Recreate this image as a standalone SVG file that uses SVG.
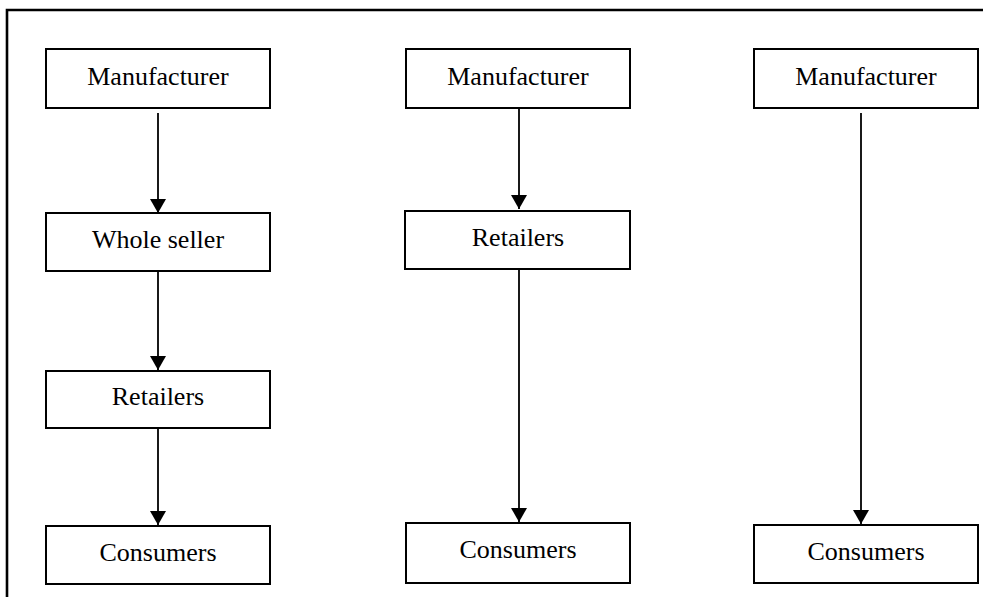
<svg xmlns="http://www.w3.org/2000/svg" width="983" height="597" viewBox="0 0 983 597">
<style>
.box{fill:#fff;stroke:#000;stroke-width:2}
.lbl{font-family:"Liberation Serif","Times New Roman",serif;font-size:26px;fill:#000;text-anchor:middle}
.con{stroke:#000;stroke-width:1.8;fill:none}
</style>
<defs>
<marker id="ah" markerUnits="userSpaceOnUse" markerWidth="14" markerHeight="16" refX="14" refY="8" orient="auto" viewBox="0 0 14 16">
<path d="M0,0 L14,8 L0,16 Z" fill="#000"/>
</marker>
</defs>
<rect width="983" height="597" fill="#fff"/>
<path d="M7,600 V10 H990" fill="none" stroke="#000" stroke-width="2.6"/>
<g id="connectors">
<line class="con" x1="158" y1="113" x2="158" y2="213" marker-end="url(#ah)"/>
<line class="con" x1="158" y1="271" x2="158" y2="370" marker-end="url(#ah)"/>
<line class="con" x1="158" y1="428" x2="158" y2="525" marker-end="url(#ah)"/>
<line class="con" x1="519" y1="108" x2="519" y2="209" marker-end="url(#ah)"/>
<line class="con" x1="519" y1="269" x2="519" y2="522" marker-end="url(#ah)"/>
<line class="con" x1="861" y1="113" x2="861" y2="524" marker-end="url(#ah)"/>
</g>
<g id="m1"><rect class="box" x="46" y="49" width="224" height="59"/><text class="lbl" x="158" y="85">Manufacturer</text></g>
<g id="w1"><rect class="box" x="46" y="213" width="224" height="58"/><text class="lbl" x="158" y="248">Whole seller</text></g>
<g id="r1"><rect class="box" x="46" y="371" width="224" height="57"/><text class="lbl" x="158" y="405">Retailers</text></g>
<g id="c1"><rect class="box" x="46" y="526" width="224" height="58"/><text class="lbl" x="158" y="561">Consumers</text></g>
<g id="m2"><rect class="box" x="406" y="49" width="224" height="59"/><text class="lbl" x="518" y="85">Manufacturer</text></g>
<g id="r2"><rect class="box" x="405" y="211" width="225" height="58"/><text class="lbl" x="518" y="246">Retailers</text></g>
<g id="c2"><rect class="box" x="406" y="523" width="224" height="60"/><text class="lbl" x="518" y="558">Consumers</text></g>
<g id="m3"><rect class="box" x="754" y="49" width="224" height="59"/><text class="lbl" x="866" y="85">Manufacturer</text></g>
<g id="c3"><rect class="box" x="754" y="525" width="224" height="58"/><text class="lbl" x="866" y="560">Consumers</text></g>
</svg>
